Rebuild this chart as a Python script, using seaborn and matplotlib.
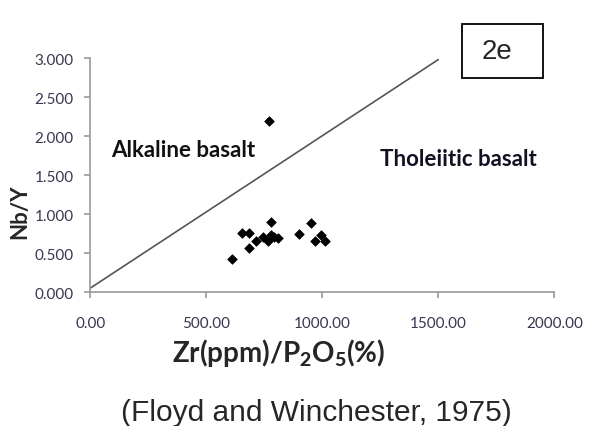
import matplotlib
matplotlib.use("Agg")
import matplotlib.pyplot as plt
import seaborn as sns
import pandas as pd
from matplotlib.patches import Rectangle
from matplotlib.ticker import FormatStrFormatter

# Zr/P2O5 versus Nb/Y discrimination data
zr_p2o5 = [772, 778, 653, 686, 713, 686, 610, 746, 778, 768, 790, 811,
           901, 950, 969, 995, 1012]
nb_y = [2.19, 0.90, 0.752, 0.752, 0.654, 0.56, 0.423, 0.71, 0.73, 0.658,
        0.70, 0.69, 0.74, 0.885, 0.65, 0.73, 0.658]

# Dividing line between alkaline and tholeiitic fields
line_x = [0, 1500]
line_y = [0.05, 2.98]

x_ticks = [0, 500, 1000, 1500, 2000]
y_ticks = [0.0, 0.5, 1.0, 1.5, 2.0, 2.5, 3.0]

sns.set_theme(style="white")
plt.rcParams["font.family"] = ["Lato", "DejaVu Sans"]
plt.rcParams["mathtext.fontset"] = "custom"
plt.rcParams["mathtext.rm"] = "Lato:weight=bold"
plt.rcParams["mathtext.bf"] = "Lato:weight=black"

df = pd.DataFrame({"x": zr_p2o5, "y": nb_y})
line_df = pd.DataFrame({"x": line_x, "y": line_y})

fig = plt.figure(figsize=(5.89, 4.27), dpi=100)
ax = fig.add_axes([0.1533, 0.3138, 0.7878, 0.548])

sns.lineplot(data=line_df, x="x", y="y", ax=ax, color="#555555", linewidth=1.2)
sns.scatterplot(data=df, x="x", y="y", ax=ax, marker="D", color="black",
                s=24, edgecolor="black", linewidth=0.5)

ax.set_xlim(0, 2000)
ax.set_ylim(0, 3.0)
ax.set_xticks(x_ticks)
ax.set_yticks(y_ticks)
ax.xaxis.set_major_formatter(FormatStrFormatter("%.2f"))
ax.yaxis.set_major_formatter(FormatStrFormatter("%.3f"))

for side in ["top", "right"]:
    ax.spines[side].set_visible(False)
for side in ["left", "bottom"]:
    ax.spines[side].set_color("#9a9a9a")
    ax.spines[side].set_linewidth(1.2)

ax.tick_params(axis="both", which="major", direction="out", length=4,
               width=1.2, color="#9a9a9a", labelsize=11, labelcolor="#3c3450",
               bottom=True, left=True)
ax.tick_params(axis="x", pad=13)
ax.tick_params(axis="y", pad=8)

ax.set_xlabel(r"Zr(ppm)/P$_\mathbf{2}$O$_\mathbf{5}$(%)", fontsize=20,
              fontweight="bold")
ax.xaxis.set_label_coords(0.407, -0.19)
ax.set_ylabel("Nb/Y", fontsize=16, fontweight="bold")
ax.yaxis.set_label_coords(-0.13, 0.346)

ax.text(90, 1.83, "Alkaline basalt", fontsize=16, fontweight="bold",
        ha="left", va="center", color="#111111")
ax.text(1250, 1.71, "Tholeiitic basalt", fontsize=16, fontweight="bold",
        ha="left", va="center", color="#111122")

# Panel tag in a framed box
fig.add_artist(Rectangle((462 / 589, 1 - 79 / 427), 81 / 589, 54 / 427,
                         transform=fig.transFigure, facecolor="white",
                         edgecolor="black", linewidth=1.3))
fig.text(497 / 589, 1 - 52 / 427, "2e", fontsize=20, family="Liberation Sans",
         ha="center", va="center")
fig.text(316 / 589, 1 - 413 / 427, "(Floyd and Winchester, 1975)",
         fontsize=21.5, family="Liberation Sans", ha="center", va="center")

fig.savefig("out.png", dpi=100)
